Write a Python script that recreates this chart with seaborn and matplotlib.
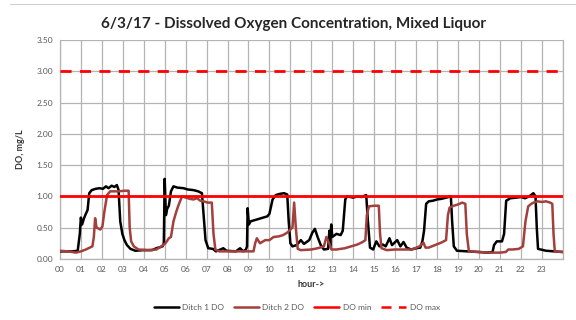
import numpy as np
import pandas as pd
import matplotlib
matplotlib.use("Agg")
import matplotlib.pyplot as plt
import seaborn as sns
from matplotlib.lines import Line2D

# Dissolved oxygen readings (hour of day, mg/L)
ditch1_hour = [0.00, 0.30, 0.60, 0.85, 0.95, 1.00, 1.06, 1.15, 1.25, 1.32, 1.40, 1.52, 1.70, 1.90,
               2.05, 2.20, 2.32, 2.47, 2.60, 2.72, 2.80, 2.88, 2.98, 3.08, 3.20, 3.37, 3.60, 4.00,
               4.40, 4.60, 4.90, 4.96, 5.00, 5.06, 5.12, 5.20, 5.30, 5.42, 5.60, 5.90, 6.10, 6.37,
               6.60, 6.78, 6.86, 6.95, 7.08, 7.30, 7.45, 7.80, 7.95, 8.40, 8.60, 8.75, 8.88, 8.93,
               8.96, 9.02, 9.10, 9.30, 9.50, 9.70, 9.90, 10.00, 10.15, 10.30, 10.50, 10.70, 10.85,
               10.92, 11.00, 11.10, 11.30, 11.50, 11.65, 11.90, 12.05, 12.17, 12.30, 12.45, 12.60,
               12.80, 12.86, 12.90, 12.95, 13.00, 13.20, 13.40, 13.50, 13.62, 13.70, 14.00, 14.20,
               14.40, 14.62, 14.70, 14.80, 14.95, 15.10, 15.25, 15.41, 15.55, 15.73, 15.85, 16.10,
               16.25, 16.40, 16.55, 16.76, 17.00, 17.20, 17.30, 17.38, 17.48, 17.60, 17.80, 18.00,
               18.20, 18.45, 18.66, 18.72, 18.80, 18.95, 19.50, 20.00, 20.40, 20.65, 20.72, 20.85,
               21.10, 21.20, 21.30, 21.50, 21.80, 22.00, 22.20, 22.40, 22.60, 22.70, 22.76, 22.82,
               23.20, 23.60, 24.00]
ditch1_do = [0.12, 0.12, 0.12, 0.13, 0.40, 0.66, 0.55, 0.65, 0.73, 0.78, 1.05, 1.10, 1.12, 1.13,
             1.12, 1.16, 1.13, 1.17, 1.15, 1.18, 1.10, 0.60, 0.40, 0.30, 0.22, 0.16, 0.13, 0.14,
             0.14, 0.17, 0.20, 0.25, 1.28, 0.70, 0.80, 0.85, 1.08, 1.16, 1.14, 1.13, 1.11, 1.10,
             1.08, 1.05, 0.70, 0.30, 0.17, 0.16, 0.12, 0.17, 0.13, 0.12, 0.17, 0.12, 0.15, 0.20,
             0.81, 0.55, 0.60, 0.62, 0.64, 0.66, 0.68, 0.72, 0.95, 1.02, 1.04, 1.05, 1.03,
             0.60, 0.25, 0.20, 0.22, 0.30, 0.24, 0.30, 0.42, 0.48, 0.35, 0.22, 0.15,
             0.16, 0.45, 0.20, 0.55, 0.35, 0.40, 0.38, 0.45, 0.95, 1.00, 0.98, 1.00,
             0.99, 1.02, 0.60, 0.18, 0.15, 0.28, 0.20, 0.23, 0.20, 0.33, 0.22, 0.30,
             0.20, 0.27, 0.18, 0.15, 0.17, 0.18, 0.28, 0.45, 0.88, 0.92, 0.93, 0.95,
             0.96, 0.98, 1.00, 0.60, 0.20, 0.13, 0.12, 0.11, 0.10, 0.11, 0.22, 0.28,
             0.28, 0.40, 0.93, 0.97, 0.98, 0.99, 0.97, 1.00, 1.05, 1.00, 0.50, 0.16,
             0.13, 0.12, 0.11]

ditch2_hour = [0.00, 0.40, 0.76, 1.00, 1.24, 1.55, 1.62, 1.68, 1.75, 1.93, 2.03, 2.12, 2.25, 2.40,
               2.80, 3.10, 3.28, 3.33, 3.40, 3.53, 3.75, 4.20, 4.60, 4.80, 5.04, 5.20, 5.30, 5.42,
               5.55, 5.65, 5.83, 6.00, 6.20, 6.37, 6.55, 6.70, 6.86, 7.05, 7.25, 7.33, 7.42, 7.60,
               8.20, 8.60, 9.00, 9.24, 9.32, 9.40, 9.55, 9.80, 10.00, 10.20, 10.45, 10.65, 10.85,
               11.00, 11.10, 11.18, 11.26, 11.35, 11.50, 12.00, 12.30, 12.60, 12.72, 12.85, 12.96,
               13.20, 13.60, 13.90, 14.20, 14.45, 14.58, 14.65, 14.75, 15.00, 15.22, 15.28, 15.35,
               15.60, 16.00, 16.40, 16.80, 17.16, 17.35, 17.45, 17.60, 17.90, 18.20, 18.43, 18.52,
               18.60, 18.80, 19.00, 19.20, 19.35, 19.42, 19.52, 20.00, 20.50, 21.00, 21.28, 21.40,
               21.60, 21.90, 22.10, 22.22, 22.35, 22.50, 22.60, 22.80, 23.00, 23.20, 23.40, 23.50,
               23.56, 23.62, 24.00]
ditch2_do = [0.13, 0.12, 0.10, 0.12, 0.15, 0.20, 0.35, 0.65, 0.50, 0.47, 0.52, 0.75, 1.02, 1.08,
             1.08, 1.09, 1.09, 0.50, 0.28, 0.20, 0.15, 0.14, 0.15, 0.19, 0.25, 0.33, 0.35, 0.60,
             0.75, 0.85, 1.00, 0.98, 0.96, 0.95, 0.97, 0.93, 0.92, 0.90, 0.90, 0.40, 0.15, 0.12,
             0.12, 0.12, 0.12, 0.12, 0.25, 0.33, 0.25, 0.30, 0.30, 0.35, 0.36, 0.38, 0.42,
             0.47, 0.50, 0.90, 0.50, 0.16, 0.14, 0.15, 0.17, 0.20, 0.35, 0.25, 0.15,
             0.15, 0.17, 0.20, 0.23, 0.27, 0.30, 0.70, 0.84, 0.85, 0.85, 0.40, 0.17,
             0.14, 0.15, 0.15, 0.15, 0.20, 0.26, 0.18, 0.18, 0.22, 0.26, 0.30, 0.70,
             0.82, 0.85, 0.87, 0.90, 0.88, 0.40, 0.12, 0.11, 0.10, 0.10, 0.11, 0.15,
             0.15, 0.16, 0.20, 0.60, 0.84, 0.88, 0.90, 0.92, 0.91, 0.92, 0.90, 0.88,
             0.40, 0.12, 0.11]

do_min = 1.0
do_max = 3.0
hour_labels = [f"{h:02d}" for h in range(24)]
series_names = ["Ditch 1 DO", "Ditch 2 DO", "DO min", "DO max"]

black = "#000000"
brown = "#A33F3C"
red = "#FF0000"
grid_col = "#B4B4B4"
text_col = "#595959"

sns.set_theme(style="white")
plt.rcParams["font.family"] = ["Lato", "DejaVu Sans"]

df = pd.concat([
    pd.DataFrame({"hour": ditch1_hour, "DO": ditch1_do, "series": series_names[0]}),
    pd.DataFrame({"hour": ditch2_hour, "DO": ditch2_do, "series": series_names[1]}),
], ignore_index=True)

fig = plt.figure(figsize=(5.76, 3.2), dpi=100)
ax = fig.add_axes([0.104, 0.191, 0.873, 0.684])

ax.set_xlim(0, 24)
ax.set_ylim(0, 3.5)
ax.set_xticks(range(0, 25))
ax.set_yticks(np.arange(0, 3.51, 0.5))
ax.grid(True, color=grid_col, linewidth=0.9)
ax.set_axisbelow(True)

sns.lineplot(data=df, x="hour", y="DO", hue="series", palette=[black, brown],
             linewidth=1.8, sort=False, estimator=None, legend=False, ax=ax, zorder=3)
ax.axhline(do_min, color=red, linewidth=2.0, zorder=4)
ax.axhline(do_max, color=red, linewidth=2.0, dashes=(4, 3), zorder=4)

ax.set_xticklabels(hour_labels + [""], fontsize=6, color=text_col)
ax.set_yticklabels([f"{v:.2f}" for v in np.arange(0, 3.51, 0.5)], fontsize=6, color=text_col)
ax.tick_params(axis="both", length=3, width=0.8, color=grid_col, direction="out", pad=2)

for side in ["left", "bottom", "right"]:
    ax.spines[side].set_color(grid_col)
    ax.spines[side].set_linewidth(0.9)
ax.spines["top"].set_visible(False)

ax.set_xlabel("hour->", fontsize=6.5, fontweight="bold", color="#333333", labelpad=5)
ax.set_ylabel("DO, mg/L", fontsize=6.5, fontweight="bold", color="#333333", labelpad=8)

fig.text(0.51, 0.925, "6/3/17 - Dissolved Oxygen Concentration, Mixed Liquor",
         ha="center", va="center", fontsize=11, fontweight="bold", color="#262626")

handles = [
    Line2D([], [], color=black, linewidth=1.8),
    Line2D([], [], color=brown, linewidth=1.8),
    Line2D([], [], color=red, linewidth=1.8),
    Line2D([], [], color=red, linewidth=1.8, dashes=(4, 3)),
]
fig.legend(handles, series_names, loc="center", bbox_to_anchor=(0.515, 0.04), ncol=4,
           frameon=False, fontsize=6, handlelength=3.0, columnspacing=1.2,
           handletextpad=0.4, labelcolor=text_col)

# thin outline along the top of the chart area
fig.add_artist(Line2D([10 / 576, 1.0], [1 - 3.5 / 320, 1 - 3.5 / 320],
                      transform=fig.transFigure, color="#D0D0D0", linewidth=0.8))

fig.savefig("out.png", dpi=100)
